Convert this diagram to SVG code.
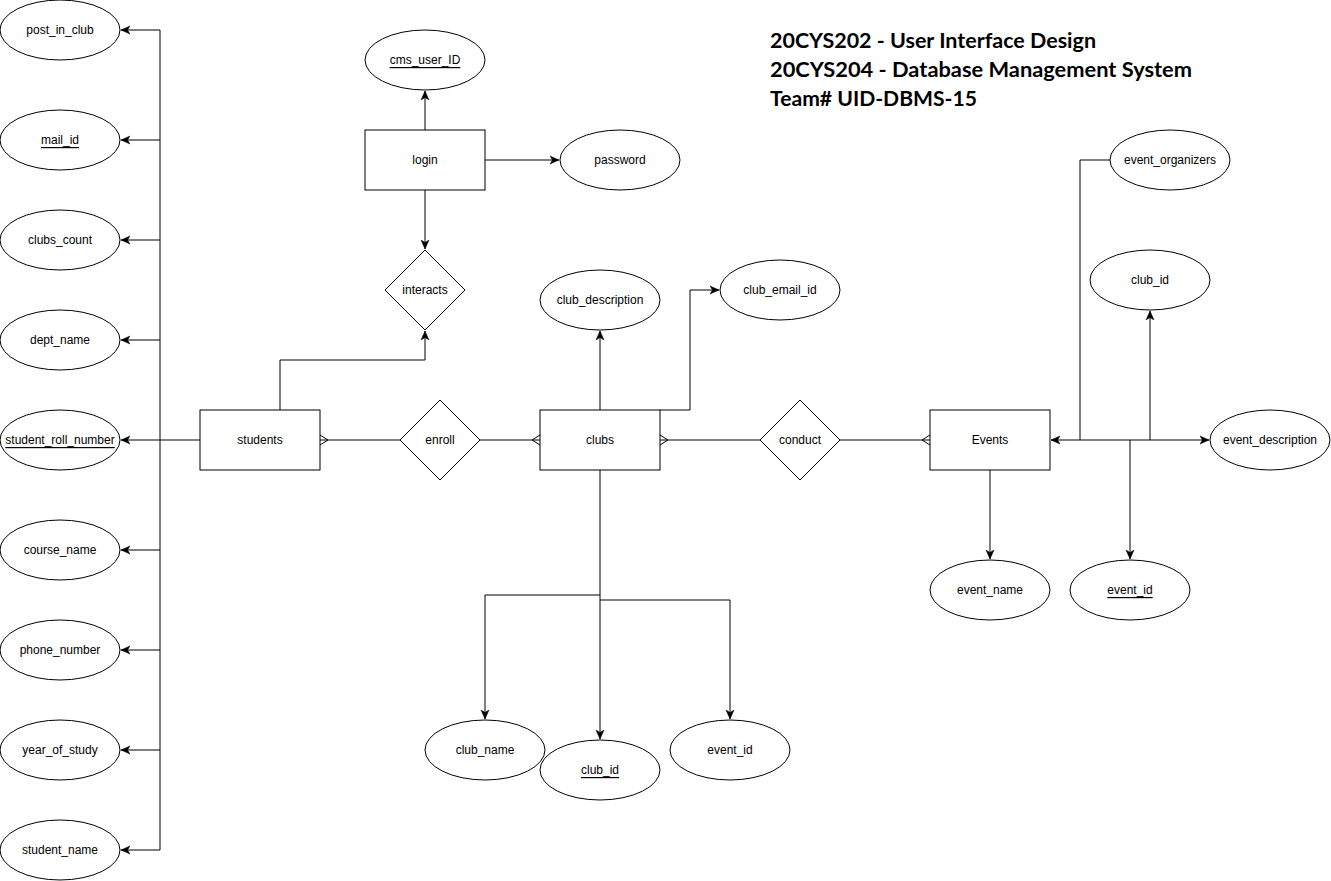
<svg xmlns="http://www.w3.org/2000/svg" width="1331" height="881" viewBox="0 0 1331 881">
<style>
.s{fill:#fff;stroke:#000;stroke-width:1}
.t{font-family:"Liberation Sans",Arial,sans-serif;font-size:12px;fill:#000;text-anchor:middle;dominant-baseline:central}
.u{text-decoration:underline}
.c{fill:none;stroke:#000;stroke-width:1}
.a{marker-end:url(#arr)}
.ttl{font-family:Lato,"Open Sans",sans-serif;font-weight:bold;font-size:21px;fill:#000}
</style>
<defs>
<marker id="arr" markerUnits="userSpaceOnUse" markerWidth="10" markerHeight="10" refX="9" refY="5" orient="auto" viewBox="0 0 10 10">
<path d="M0,1 L9,5 L0,9 L2.5,5 Z" fill="#000" stroke="#000" stroke-width="0.5"/>
</marker>
</defs>
<rect width="1331" height="881" fill="#fff"/>

<g id="connectors">
<!-- students attributes -->
<path class="c" d="M200,440 H160 M160,30 V850"/>
<path class="c a" d="M160,30 H121"/>
<path class="c a" d="M160,140 H121"/>
<path class="c a" d="M160,240 H121"/>
<path class="c a" d="M160,340 H121"/>
<path class="c a" d="M160,440 H121"/>
<path class="c a" d="M160,550 H121"/>
<path class="c a" d="M160,650 H121"/>
<path class="c a" d="M160,750 H121"/>
<path class="c a" d="M160,850 H121"/>
<!-- login -->
<path class="c a" d="M425,130 V91"/>
<path class="c a" d="M485,160 H559"/>
<path class="c a" d="M425,190 V249"/>
<path class="c a" d="M280,410 V360 H425 V331"/>
<!-- relationships -->
<path class="c" d="M320,440 H400 M480,440 H540 M660,440 H760 M840,440 H930"/>
<path class="c" d="M320,435 L328,440 L320,445"/>
<path class="c" d="M540,435 L532,440 L540,445"/>
<path class="c" d="M660,435 L668,440 L660,445"/>
<path class="c" d="M930,435 L922,440 L930,445"/>
<!-- clubs attributes -->
<path class="c a" d="M600,410 V331"/>
<path class="c a" d="M660,410 H690 V290 H719"/>
<path class="c a" d="M600,470 V739"/>
<path class="c a" d="M600,595 H485 V719"/>
<path class="c a" d="M600,600 H730 V719"/>
<!-- events attributes -->
<path class="c a" d="M990,470 V559"/>
<path class="c a" d="M1130,440 H1051"/>
<path class="c a" d="M1130,440 H1209"/>
<path class="c" d="M1080,440 V160 H1110"/>
<path class="c a" d="M1150,440 V311"/>
<path class="c a" d="M1130,440 V559"/>
</g>

<g id="post_in_club"><ellipse class="s" cx="60" cy="30" rx="60" ry="30"/><text class="t" x="60" y="30">post_in_club</text></g>
<g id="mail_id"><ellipse class="s" cx="60" cy="140" rx="60" ry="30"/><text class="t u" x="60" y="140">mail_id</text></g>
<g id="clubs_count"><ellipse class="s" cx="60" cy="240" rx="60" ry="30"/><text class="t" x="60" y="240">clubs_count</text></g>
<g id="dept_name"><ellipse class="s" cx="60" cy="340" rx="60" ry="30"/><text class="t" x="60" y="340">dept_name</text></g>
<g id="student_roll_number"><ellipse class="s" cx="60" cy="440" rx="60" ry="30"/><text class="t u" x="60" y="440">student_roll_number</text></g>
<g id="course_name"><ellipse class="s" cx="60" cy="550" rx="60" ry="30"/><text class="t" x="60" y="550">course_name</text></g>
<g id="phone_number"><ellipse class="s" cx="60" cy="650" rx="60" ry="30"/><text class="t" x="60" y="650">phone_number</text></g>
<g id="year_of_study"><ellipse class="s" cx="60" cy="750" rx="60" ry="30"/><text class="t" x="60" y="750">year_of_study</text></g>
<g id="student_name"><ellipse class="s" cx="60" cy="850" rx="60" ry="30"/><text class="t" x="60" y="850">student_name</text></g>

<g id="students"><rect class="s" x="200" y="410" width="120" height="60"/><text class="t" x="260" y="440">students</text></g>
<g id="login"><rect class="s" x="365" y="130" width="120" height="60"/><text class="t" x="425" y="160">login</text></g>
<g id="cms_user_ID"><ellipse class="s" cx="425" cy="60" rx="60" ry="30"/><text class="t u" x="425" y="60">cms_user_ID</text></g>
<g id="password"><ellipse class="s" cx="620" cy="160" rx="60" ry="30"/><text class="t" x="620" y="160">password</text></g>
<g id="interacts"><polygon class="s" points="425,250 465,290 425,330 385,290"/><text class="t" x="425" y="290">interacts</text></g>
<g id="enroll"><polygon class="s" points="440,400 480,440 440,480 400,440"/><text class="t" x="440" y="440">enroll</text></g>
<g id="clubs"><rect class="s" x="540" y="410" width="120" height="60"/><text class="t" x="600" y="440">clubs</text></g>
<g id="conduct"><polygon class="s" points="800,400 840,440 800,480 760,440"/><text class="t" x="800" y="440">conduct</text></g>
<g id="events"><rect class="s" x="930" y="410" width="120" height="60"/><text class="t" x="990" y="440">Events</text></g>

<g id="club_description"><ellipse class="s" cx="600" cy="300" rx="60" ry="30"/><text class="t" x="600" y="300">club_description</text></g>
<g id="club_email_id"><ellipse class="s" cx="780" cy="290" rx="60" ry="30"/><text class="t" x="780" y="290">club_email_id</text></g>
<g id="club_name"><ellipse class="s" cx="485" cy="750" rx="60" ry="30"/><text class="t" x="485" y="750">club_name</text></g>
<g id="club_id_pk"><ellipse class="s" cx="600" cy="770" rx="60" ry="30"/><text class="t u" x="600" y="770">club_id</text></g>
<g id="clubs_event_id"><ellipse class="s" cx="730" cy="750" rx="60" ry="30"/><text class="t" x="730" y="750">event_id</text></g>

<g id="event_organizers"><ellipse class="s" cx="1170" cy="160" rx="60" ry="30"/><text class="t" x="1170" y="160">event_organizers</text></g>
<g id="events_club_id"><ellipse class="s" cx="1150" cy="280" rx="60" ry="30"/><text class="t" x="1150" y="280">club_id</text></g>
<g id="event_description"><ellipse class="s" cx="1270" cy="440" rx="60" ry="30"/><text class="t" x="1270" y="440">event_description</text></g>
<g id="event_name"><ellipse class="s" cx="990" cy="590" rx="60" ry="30"/><text class="t" x="990" y="590">event_name</text></g>
<g id="event_id_pk"><ellipse class="s" cx="1130" cy="590" rx="60" ry="30"/><text class="t u" x="1130" y="590">event_id</text></g>

<g id="title">
<text class="ttl" x="770" y="48" textLength="326" lengthAdjust="spacingAndGlyphs">20CYS202 - User Interface Design</text>
<text class="ttl" x="770" y="77" textLength="422" lengthAdjust="spacingAndGlyphs">20CYS204 - Database Management System</text>
<text class="ttl" x="770" y="106" textLength="207" lengthAdjust="spacingAndGlyphs">Team# UID-DBMS-15</text>
</g>
</svg>
